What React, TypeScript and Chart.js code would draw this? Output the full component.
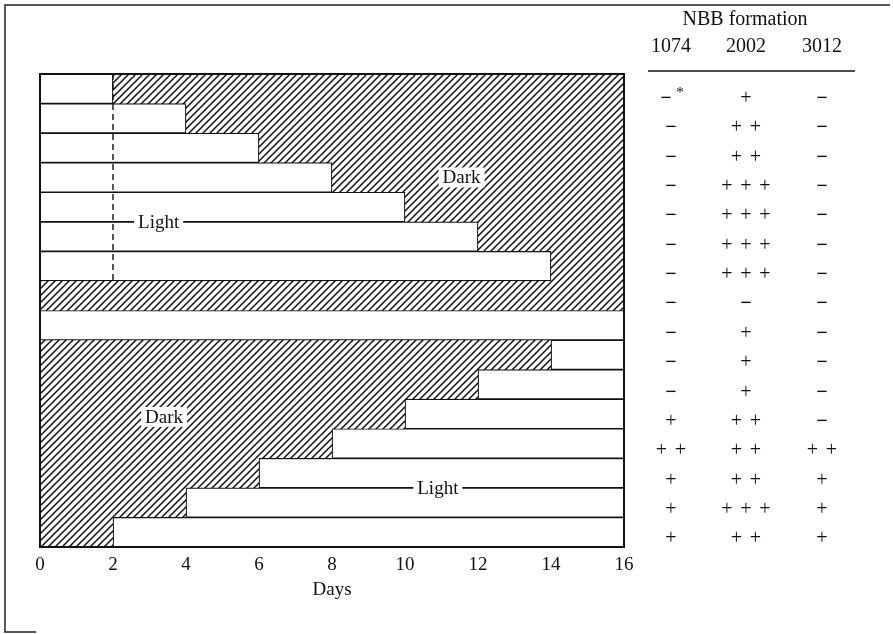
import React, { useEffect, useRef } from 'react';
import { Chart, registerables } from 'chart.js';
Chart.register(...registerables);

// ---- data ----
const rows = ['1', '2', '3', '4', '5', '6', '7', '8', '9', '10', '11', '12', '13', '14', '15', '16'];
const lightStart = [0, 0, 0, 0, 0, 0, 0, null, 0, 14, 12, 10, 8, 6, 4, 2];
const lightEnd = [2, 4, 6, 8, 10, 12, 14, null, 16, 16, 16, 16, 16, 16, 16, 16];
const darkStart = [2, 4, 6, 8, 10, 12, 14, 0, null, 0, 0, 0, 0, 0, 0, 0];
const darkEnd = [16, 16, 16, 16, 16, 16, 16, 16, null, 14, 12, 10, 8, 6, 4, 2];
const dayMin = 0;
const dayMax = 16;
const dayStep = 2;
const dashedDay = 2;
const dashedLastRow = 6;

const tableTitle = 'NBB formation';
const strains = ['1074', '2002', '3012'];
const nbb1074 = ['−*', '−', '−', '−', '−', '−', '−', '−', '−', '−', '−', '+', '+ +', '+', '+', '+'];
const nbb2002 = ['+', '+ +', '+ +', '+ + +', '+ + +', '+ + +', '+ + +', '−', '+', '+', '+', '+ +', '+ +', '+ +', '+ + +', '+ +'];
const nbb3012 = ['−', '−', '−', '−', '−', '−', '−', '−', '−', '−', '−', '−', '+ +', '+', '+', '+'];

// labels placed in data coordinates: [text, day, row]
const regionLabels: [string, number, number][] = [
  ['Dark', 11.55, 3],
  ['Light', 3.25, 4.5],
  ['Dark', 3.4, 11.1],
  ['Light', 10.9, 13.5],
];

const FONT = '"Liberation Serif", "Times New Roman", serif';

function makeHatch(): CanvasPattern | string {
  const s = 7;
  const c = document.createElement('canvas');
  c.width = s;
  c.height = s;
  const g = c.getContext('2d');
  if (!g) return '#888';
  g.fillStyle = '#fff';
  g.fillRect(0, 0, s, s);
  g.strokeStyle = '#111';
  g.lineWidth = 1.5;
  g.beginPath();
  g.moveTo(-1, s + 1);
  g.lineTo(s + 1, -1);
  g.moveTo(-1, 1);
  g.lineTo(1, -1);
  g.moveTo(s - 1, s + 1);
  g.lineTo(s + 1, s - 1);
  g.stroke();
  const p = g.createPattern(c, 'repeat');
  return p || '#888';
}

const decorPlugin = {
  id: 'decor',
  afterDatasetsDraw(chart: any) {
    const { ctx, chartArea: a, scales } = chart;
    const xs = scales.x;
    const ys = scales.y;
    const rowH = ys.getPixelForValue(1) - ys.getPixelForValue(0);
    ctx.save();
    // dashed line at 2 days
    ctx.strokeStyle = '#111';
    ctx.lineWidth = 1.4;
    ctx.setLineDash([6, 4]);
    ctx.beginPath();
    const dx = xs.getPixelForValue(dashedDay);
    ctx.moveTo(dx, a.top);
    ctx.lineTo(dx, ys.getPixelForValue(dashedLastRow) + rowH / 2);
    ctx.stroke();
    ctx.setLineDash([]);
    // plot border
    ctx.lineWidth = 2;
    ctx.strokeRect(a.left, a.top, a.right - a.left, a.bottom - a.top);
    // region labels
    ctx.font = '19px ' + FONT;
    ctx.textAlign = 'center';
    ctx.textBaseline = 'middle';
    for (const [t, d, r] of regionLabels) {
      const px = xs.getPixelForValue(d);
      const py = ys.getPixelForValue(r);
      const w = ctx.measureText(t).width;
      ctx.fillStyle = '#fff';
      ctx.fillRect(px - w / 2 - 4, py - 10, w + 8, 20);
      ctx.fillStyle = '#111';
      ctx.fillText(t, px, py + 1);
    }
    // table
    const colX = [a.right + 47, a.right + 122, a.right + 198];
    ctx.font = '20px ' + FONT;
    ctx.fillText(tableTitle, a.right + 121, 20);
    strains.forEach((s, i) => ctx.fillText(s, colX[i], 47));
    ctx.lineWidth = 1.5;
    ctx.beginPath();
    ctx.moveTo(a.right + 24, 71);
    ctx.lineTo(a.right + 231, 71);
    ctx.stroke();
    const cols = [nbb1074, nbb2002, nbb3012];
    cols.forEach((col, ci) => {
      col.forEach((val, ri) => {
        const py = ys.getPixelForValue(ri) + 10 - ri * 0.2;
        let v = val;
        let star = false;
        if (v.endsWith('*')) {
          star = true;
          v = v.slice(0, -1);
        }
        const toks = v.split(' ');
        const n = toks.length;
        toks.forEach((tk, k) => {
          const px = colX[ci] + (k - (n - 1) / 2) * 19;
          ctx.font = (tk === '−' ? 'bold ' : '') + '20px ' + FONT;
          ctx.fillText(tk, star ? px - 5 : px, py);
          if (star) {
            ctx.font = '15px ' + FONT;
            ctx.fillText('*', px + 9, py - 6);
          }
        });
      });
    });
    ctx.restore();
  },
  afterDraw(chart: any) {
    const { ctx } = chart;
    ctx.save();
    ctx.strokeStyle = '#222';
    ctx.lineWidth = 1.5;
    ctx.beginPath();
    ctx.moveTo(890, 5);
    ctx.lineTo(5, 5);
    ctx.lineTo(5, 632);
    ctx.lineTo(36, 632);
    ctx.stroke();
    ctx.restore();
  },
};

export default function App() {
  const ref = useRef<HTMLCanvasElement>(null);
  useEffect(() => {
    if (!ref.current) return;
    const hatch = makeHatch();
    const chart = new Chart(ref.current, {
      type: 'bar',
      data: {
        labels: rows,
        datasets: [
          {
            label: 'Light',
            data: rows.map((_, i) => (lightStart[i] === null ? null : [lightStart[i], lightEnd[i]])) as any,
            backgroundColor: '#fff',
            borderColor: '#111',
            borderWidth: 1.2,
            borderSkipped: false,
            barPercentage: 1,
            categoryPercentage: 1,
            grouped: false,
            order: 1,
          } as any,
          {
            label: 'Dark',
            data: rows.map((_, i) => (darkStart[i] === null ? null : [darkStart[i], darkEnd[i]])) as any,
            backgroundColor: hatch as any,
            borderWidth: 0,
            barPercentage: 1,
            categoryPercentage: 1,
            grouped: false,
            order: 2,
          } as any,
        ],
      },
      options: {
        indexAxis: 'y',
        responsive: false,
        animation: false,
        layout: { padding: { left: 40, right: 269, top: 74, bottom: 27 } },
        plugins: { legend: { display: false }, tooltip: { enabled: false } },
        scales: {
          x: {
            type: 'linear',
            min: dayMin,
            max: dayMax,
            grid: { display: false },
            border: { display: false },
            ticks: {
              stepSize: dayStep,
              padding: -1,
              color: '#111',
              font: { family: FONT, size: 19 },
            },
            title: {
              display: true,
              text: 'Days',
              color: '#111',
              font: { family: FONT, size: 19 },
              padding: { top: 0, bottom: 6 },
            },
            afterFit: (s: any) => {
              s.height = 60;
            },
          },
          y: {
            display: false,
            grid: { display: false },
          },
        },
      },
      plugins: [decorPlugin],
    });
    return () => chart.destroy();
  }, []);
  return (
    <div style={{ position: 'absolute', left: 0, top: 0, width: 893, height: 634, background: '#fff' }}>
      <canvas ref={ref} width={893} height={634} />
    </div>
  );
}
